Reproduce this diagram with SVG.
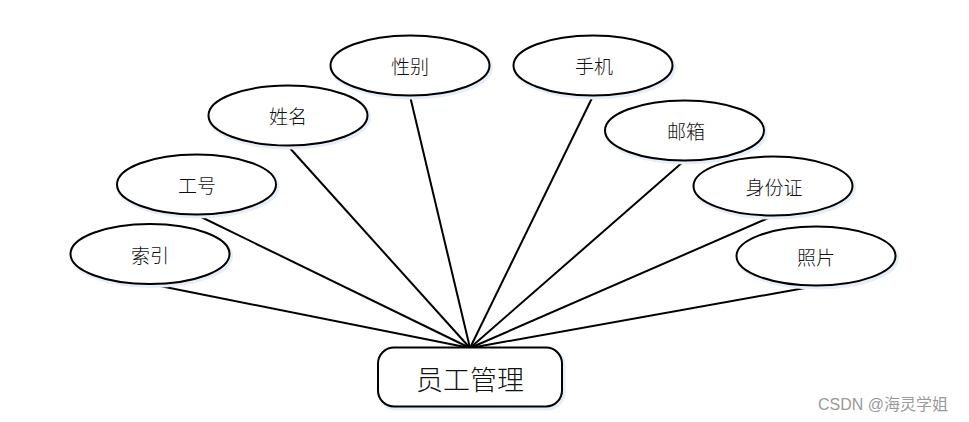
<svg xmlns="http://www.w3.org/2000/svg" width="969" height="422" viewBox="0 0 969 422">
<style>
.attr ellipse{fill:#fff;stroke:#000;stroke-width:2}
.attr ellipse.glow{fill:none;stroke:#e6eef8;stroke-width:4}
.t{font-family:"Noto Sans CJK SC","Noto Sans",sans-serif;font-size:19px;font-weight:300;fill:#111;text-anchor:middle;dominant-baseline:central}
.conn line{stroke:#000;stroke-width:2}
</style>
<rect width="969" height="422" fill="#fff"/>
<g class="conn">
<line x1="150" y1="284" x2="470" y2="348"/>
<line x1="197" y1="215" x2="470" y2="348"/>
<line x1="288" y1="146" x2="470" y2="348"/>
<line x1="410" y1="96" x2="470" y2="348"/>
<line x1="593" y1="96" x2="470" y2="348"/>
<line x1="684" y1="161" x2="470" y2="348"/>
<line x1="773" y1="216" x2="470" y2="348"/>
<line x1="816" y1="286" x2="470" y2="348"/>
</g>
<g id="n-xingbie" class="attr"><ellipse class="glow" cx="411.5" cy="67.5" rx="79.5" ry="30"/><ellipse cx="410" cy="65.5" rx="79.5" ry="30"/><text class="t" x="410" y="65.5">性别</text></g>
<g id="n-xingming" class="attr"><ellipse class="glow" cx="289.5" cy="117.5" rx="79.5" ry="30"/><ellipse cx="288" cy="115.5" rx="79.5" ry="30"/><text class="t" x="288" y="115.5">姓名</text></g>
<g id="n-gonghao" class="attr"><ellipse class="glow" cx="198" cy="186.5" rx="79.5" ry="30"/><ellipse cx="196.5" cy="184.5" rx="79.5" ry="30"/><text class="t" x="197" y="184.5">工号</text></g>
<g id="n-suoyin" class="attr"><ellipse class="glow" cx="151.5" cy="256" rx="79.5" ry="30"/><ellipse cx="150" cy="254" rx="79.5" ry="30"/><text class="t" x="150" y="254">索引</text></g>
<g id="n-shouji" class="attr"><ellipse class="glow" cx="594.5" cy="67.5" rx="79.5" ry="30"/><ellipse cx="593" cy="65.5" rx="79.5" ry="30"/><text class="t" x="594" y="65.5">手机</text></g>
<g id="n-youxiang" class="attr"><ellipse class="glow" cx="686" cy="132.5" rx="79.5" ry="30"/><ellipse cx="684.5" cy="130.5" rx="79.5" ry="30"/><text class="t" x="686" y="130.5">邮箱</text></g>
<g id="n-shenfenzheng" class="attr"><ellipse class="glow" cx="774.5" cy="188" rx="79.5" ry="29.5"/><ellipse cx="773" cy="186" rx="79.5" ry="29.5"/><text class="t" x="774" y="186">身份证</text></g>
<g id="n-zhaopian" class="attr"><ellipse class="glow" cx="817.5" cy="258" rx="79.5" ry="29.5"/><ellipse cx="816" cy="256" rx="79.5" ry="29.5"/><text class="t" x="816" y="256">照片</text></g>
<g id="n-yuangong">
<rect x="379.5" y="349.5" width="184" height="59" rx="16" fill="none" stroke="#e6eef8" stroke-width="4"/>
<rect x="378" y="347.5" width="184" height="59" rx="16" fill="#fff" stroke="#000" stroke-width="2"/>
<text x="470" y="378" style="font-family:'Noto Sans CJK SC','Noto Sans',sans-serif;font-size:27px;font-weight:300;fill:#111;text-anchor:middle;dominant-baseline:central">员工管理</text>
</g>
<text x="818" y="410" style="font-family:'Liberation Sans','Noto Sans CJK SC',sans-serif;font-size:16px;fill:#999">CSDN @海灵学姐</text>
</svg>
